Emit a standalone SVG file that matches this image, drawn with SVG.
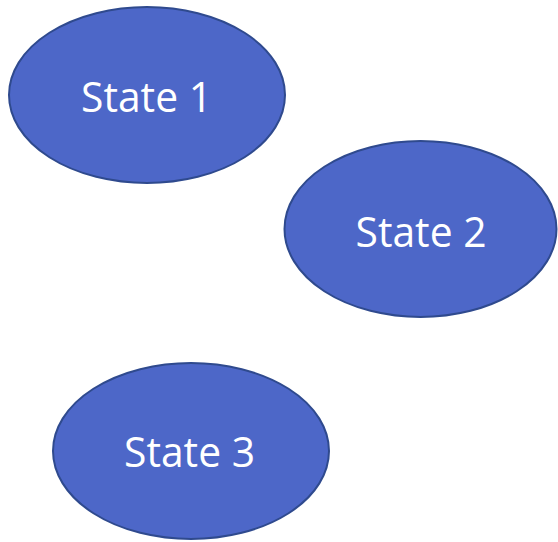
<svg xmlns="http://www.w3.org/2000/svg" width="558" height="542" viewBox="0 0 558 542">
<style>
.st{fill:#4D67C8;stroke:#2F4A8E;stroke-width:2}
.lb{fill:#ffffff;font-family:"Open Sans","Noto Sans",sans-serif;font-size:42px;text-anchor:middle}
</style>
<rect width="558" height="542" fill="#ffffff"/>
<g id="connectors"></g>
<g id="state1">
<ellipse class="st" cx="147" cy="95" rx="138" ry="88"/>
<text class="lb" x="146.5" y="112" textLength="131" lengthAdjust="spacingAndGlyphs">State 1</text>
</g>
<g id="state2">
<ellipse class="st" cx="420.5" cy="229" rx="136" ry="88"/>
<text class="lb" x="421" y="247" textLength="131" lengthAdjust="spacingAndGlyphs">State 2</text>
</g>
<g id="state3">
<ellipse class="st" cx="191" cy="451" rx="138" ry="88"/>
<text class="lb" x="189.5" y="467" textLength="131" lengthAdjust="spacingAndGlyphs">State 3</text>
</g>
</svg>
